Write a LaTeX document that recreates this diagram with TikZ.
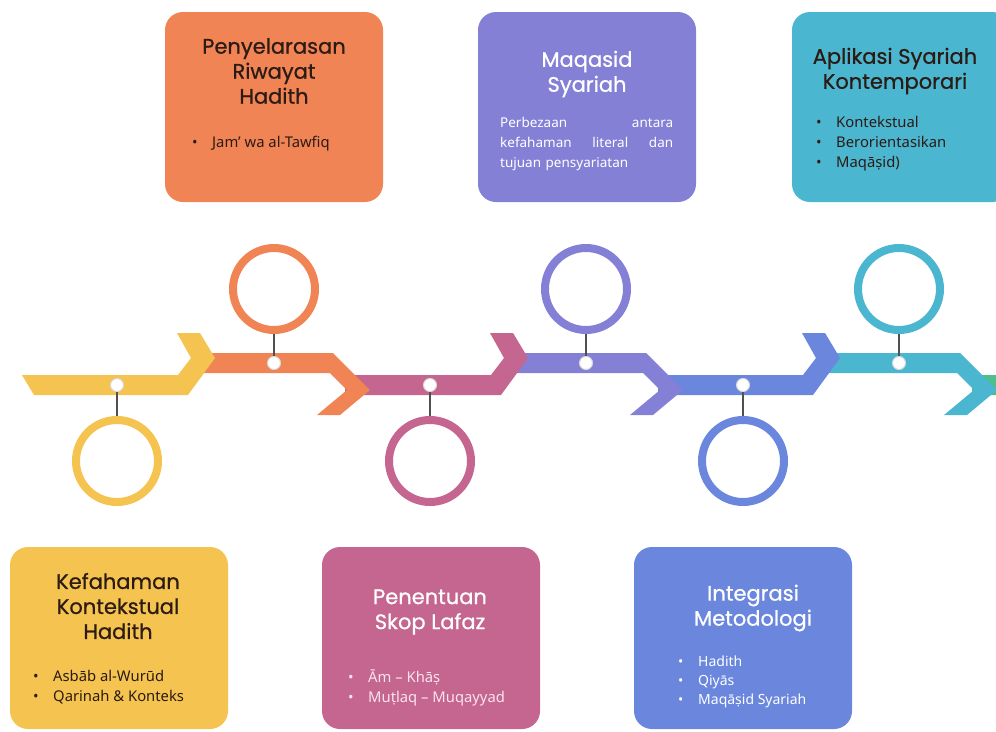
\documentclass[tikz,border=0pt]{standalone}
\usepackage{fontspec}
\setmainfont{Noto Sans}
\newfontfamily\ttlfont[FakeBold=0.7]{Poppins}
\usetikzlibrary{positioning,calc}

\definecolor{cyel}{HTML}{F5C34F}
\definecolor{cora}{HTML}{F08455}
\definecolor{cpnk}{HTML}{C4668F}
\definecolor{cpur}{HTML}{8480D6}
\definecolor{cblu}{HTML}{6A86DD}
\definecolor{ctea}{HTML}{4BB6D0}
\definecolor{cgrn}{HTML}{4CBF8C}
\definecolor{cink}{HTML}{2B1B14}
\definecolor{cpale}{HTML}{FBE3EE}
\definecolor{cstem}{HTML}{505050}

\tikzset{
  hoop/.style={circle,draw=#1,line width=8pt,minimum size=82pt,inner sep=0pt},
  knob/.style={circle,fill=white,draw=black!15,line width=1pt,minimum size=13pt,inner sep=0pt},
  stem/.style={cstem,line width=1.6pt},
  card/.style={rounded corners=18pt,fill=#1,minimum width=218pt,inner sep=0pt},
  cardtitle/.style={font=\ttlfont\fontsize{21}{25}\selectfont,align=center,text=#1,inner sep=0pt},
  cardlist/.style={font=\fontsize{14.8}{20}\selectfont,align=left,text=#1,anchor=north west,inner sep=0pt},
}
\newcommand{\itm}[1]{\makebox[20pt][l]{\textbullet}#1}

\begin{document}
\begin{tikzpicture}[x=1pt,y=-1pt]
	\useasboundingbox (0,0) rectangle (996,731);
	% timeline, drawn back to front
	\fill[cgrn] (972,375) -- (1116,375) -- (1129,358) -- (1115,333) -- (1138,333) -- (1153,358) -- (1126,395) -- (972,395) -- cycle;
	\fill[ctea] (820,353) -- (960,353) -- (997,390) -- (967,415) -- (944,415) -- (974,390) -- (957,373) -- (820,373) -- cycle;
	\fill[cblu] (658,375) -- (803,375) -- (816,358) -- (802,333) -- (825,333) -- (840,358) -- (813,395) -- (658,395) -- cycle;
	\fill[cpur] (508,353) -- (646,353) -- (683,390) -- (653,415) -- (630,415) -- (660,390) -- (643,373) -- (508,373) -- cycle;
	\fill[cpnk] (345,375) -- (491,375) -- (504,358) -- (490,333) -- (513,333) -- (528,358) -- (501,395) -- (345,395) -- cycle;
	\fill[cora] (195,353) -- (333,353) -- (370,390) -- (340,415) -- (317,415) -- (347,390) -- (330,373) -- (195,373) -- cycle;
	\fill[cyel] (22,375) -- (178,375) -- (191,358) -- (177,333) -- (200,333) -- (215,358) -- (188,395) -- (34,395) -- cycle;
	%
	\node[hoop=cyel] (h1) at (117,461) {};
	\node[hoop=cora] (h2) at (274,289) {};
	\node[hoop=cpnk] (h3) at (430,461) {};
	\node[hoop=cpur] (h4) at (586,289) {};
	\node[hoop=cblu] (h5) at (743,461) {};
	\node[hoop=ctea] (h6) at (899,289) {};
	\node[knob] (k1) at (117,385) {};
	\node[knob] (k2) at (274,363) {};
	\node[knob] (k3) at (430,385) {};
	\node[knob] (k4) at (586,363) {};
	\node[knob] (k5) at (743,385) {};
	\node[knob] (k6) at (899,363) {};
	\foreach \i in {1,...,6} \draw[stem] (k\i) -- (h\i);
	%
	\node[card=cora,minimum height=190pt] (b2) at (274,107) {};
	\node[card=cpur,minimum height=190pt] (b4) at (587,107) {};
	\node[card=ctea,minimum height=190pt] (b6) at (901,107) {};
	\node[card=cyel,minimum height=182pt] (b1) at (119,638) {};
	\node[card=cpnk,minimum height=182pt] (b3) at (431,638) {};
	\node[card=cblu,minimum height=182pt] (b5) at (743,638) {};
	%
	\node[cardtitle=cink] (t2) at (274,71) {Penyelarasan\\Riwayat\\Hadith};
	\node[cardtitle=white] (t4) at (587,74) {Maqasid\\Syariah};
	\node[cardtitle=cink] (t6) at (895,71) {Aplikasi Syariah\\Kontemporari};
	\node[cardtitle=cink] (t1) at (118,606) {Kefahaman\\Kontekstual\\Hadith};
	\node[cardtitle=white] (t3) at (430,612) {Penentuan\\Skop Lafaz};
	\node[cardtitle=white] (t5) at (753,608) {Integrasi\\Metodologi};
	%
	\node[cardlist=cink] (l2) at (192,136) {\itm{Jam' wa al-Tawfiq}};
	\node[cardlist=white,font=\fontsize{13.5}{20}\selectfont,text width=173pt] (l4) at (500,117)
		{Perbezaan\hfill antara\\kefahaman\hfill literal\hfill dan\\tujuan pensyariatan};
	\node[cardlist=cink] (l6) at (816,116) {\itm{Kontekstual}\\\itm{Berorientasikan}\\\itm{}Maqāṣid)};
	\node[cardlist=cink] (l1) at (33,670) {\itm{Asbāb al-Wurūd}\\\itm{Qarinah \& Konteks}};
	\node[cardlist=cpale] (l3) at (348,670) {\itm{Ām – Khāṣ}\\\itm{Muṭlaq – Muqayyad}};
	\node[cardlist=white,font=\fontsize{14}{19}\selectfont] (l5) at (678,656) {\itm{Hadith}\\\itm{Qiyās}\\\itm{Maqāṣid Syariah}};
\end{tikzpicture}
\end{document}
